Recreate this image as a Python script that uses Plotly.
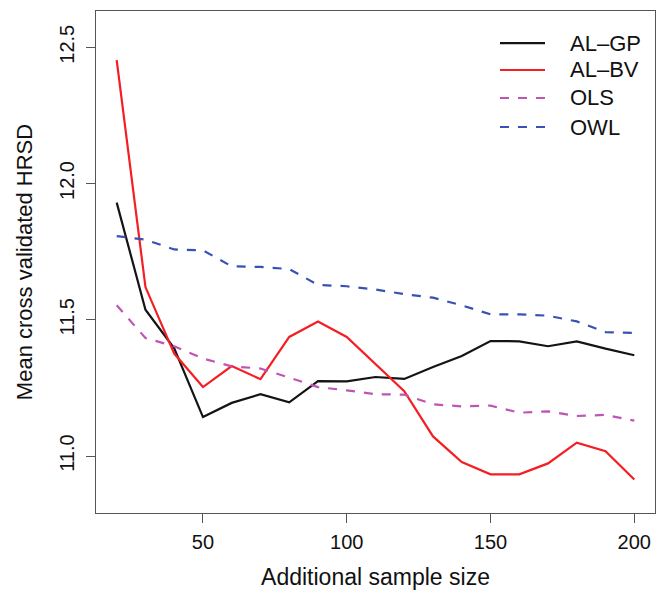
import plotly.graph_objects as go

# Additional sample size (x) and mean cross-validated HRSD per method
sample_size = [20, 30, 40, 50, 60, 70, 80, 90, 100, 110, 120, 130, 140, 150, 160, 170, 180, 190, 200]
al_gp = [11.930, 11.537, 11.395, 11.143, 11.195, 11.227, 11.197, 11.275, 11.274, 11.290,
         11.283, 11.327, 11.367, 11.422, 11.421, 11.403, 11.421, 11.394, 11.370]
al_bv = [12.453, 11.620, 11.376, 11.253, 11.330, 11.282, 11.437, 11.494, 11.437, 11.339,
         11.238, 11.072, 10.978, 10.933, 10.933, 10.973, 11.049, 11.018, 10.914]
ols = [11.553, 11.433, 11.403, 11.358, 11.329, 11.321, 11.288, 11.253, 11.241, 11.227,
       11.225, 11.190, 11.182, 11.185, 11.159, 11.164, 11.147, 11.151, 11.130]
owl = [11.807, 11.794, 11.758, 11.755, 11.696, 11.694, 11.686, 11.628, 11.623, 11.611,
       11.594, 11.581, 11.553, 11.520, 11.520, 11.515, 11.494, 11.455, 11.452]

series_names = ["AL\u2013GP", "AL\u2013BV", "OLS", "OWL"]
series_values = [al_gp, al_bv, ols, owl]
series_colors = ["#141414", "#F41E23", "#C054B4", "#3852B4"]
series_dash = ["solid", "solid", "9px,9px", "9px,9px"]

x_ticks = [50, 100, 150, 200]
y_ticks = [11.0, 11.5, 12.0, 12.5]

FONT = "Liberation Sans, Arial, Helvetica, sans-serif"
AXIS_COLOR = "#555555"

fig = go.Figure()
for name, vals, col, dash in zip(series_names, series_values, series_colors, series_dash):
    fig.add_trace(go.Scatter(
        x=sample_size, y=vals, name=name, mode="lines",
        line=dict(color=col, width=2.2, dash=dash),
        showlegend=False,
    ))

# Legend drawn in the upper right corner: line sample + label per series
row_y = [0.936, 0.8825, 0.8267, 0.7689]
for name, col, dash, yy in zip(series_names, series_colors, series_dash, row_y):
    fig.add_shape(type="line", xref="paper", yref="paper",
                  x0=0.7227, x1=0.8032, y0=yy, y1=yy,
                  line=dict(color=col, width=2.2, dash=dash))
    fig.add_annotation(text=name, xref="paper", yref="paper",
                       x=0.8444, y=yy, xanchor="left", yanchor="middle",
                       showarrow=False, font=dict(family=FONT, size=22, color="#111111"))

fig.update_layout(
    width=662, height=593,
    margin=dict(l=96, r=7, t=11, b=80, autoexpand=False),
    paper_bgcolor="white", plot_bgcolor="white",
    font=dict(family=FONT, color="#111111"),
    xaxis=dict(
        range=[12.8, 207.2], tickvals=x_ticks, ticktext=[str(v) for v in x_ticks],
        showgrid=False, zeroline=False,
        showline=True, mirror=True, linecolor=AXIS_COLOR, linewidth=1.2,
        ticks="outside", ticklen=9, tickwidth=1.2, tickcolor=AXIS_COLOR,
        tickfont=dict(size=20, color="#111111"), ticklabelstandoff=2,
        title=dict(text="Additional sample size", font=dict(size=23, color="#111111"), standoff=16),
        automargin=False,
    ),
    yaxis=dict(
        range=[10.791, 12.633], tickvals=y_ticks, ticktext=[f"{v:.1f}" for v in y_ticks],
        showgrid=False, zeroline=False,
        showline=True, mirror=True, linecolor=AXIS_COLOR, linewidth=1.2,
        ticks="outside", ticklen=9, tickwidth=1.2, tickcolor=AXIS_COLOR,
        tickangle=-90, tickfont=dict(size=20, color="#111111"), ticklabelstandoff=4,
        title=dict(text="Mean cross validated HRSD", font=dict(size=22, color="#111111"), standoff=17),
        automargin=False,
    ),
)

fig.write_html("out.html")
